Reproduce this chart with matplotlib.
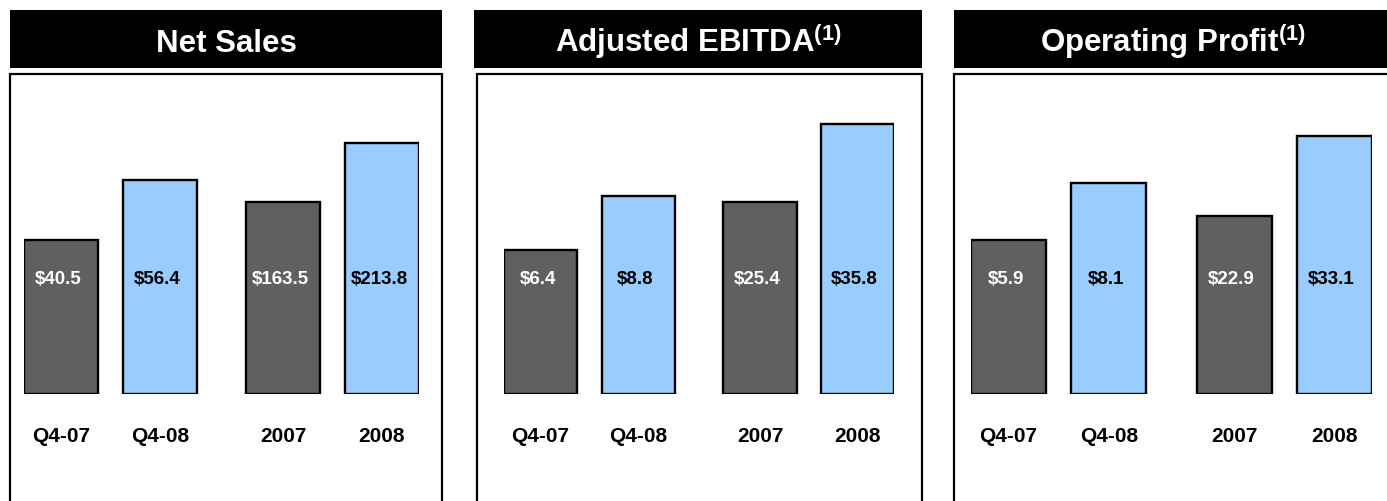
import matplotlib
matplotlib.use('Agg')
import matplotlib.pyplot as plt
from matplotlib.patches import Rectangle
from matplotlib.transforms import blended_transform_factory

plt.rcParams['font.family'] = ['Liberation Sans', 'DejaVu Sans']
plt.rcParams['font.weight'] = 'bold'
plt.rcParams['mathtext.fontset'] = 'custom'
plt.rcParams['mathtext.rm'] = 'Liberation Sans:bold'
plt.rcParams['mathtext.bf'] = 'Liberation Sans:bold'
plt.rcParams['mathtext.it'] = 'Liberation Sans:bold'

# 数据
titles = ['Net Sales', r'Adjusted EBITDA$^{(1)}$', r'Operating Profit$^{(1)}$']
periods = ['Q4-07', 'Q4-08', '2007', '2008']
net_sales = [40.5, 56.4, 163.5, 213.8]
adj_ebitda = [6.4, 8.8, 25.4, 35.8]
op_profit = [5.9, 8.1, 22.9, 33.1]
panel_values = [net_sales, adj_ebitda, op_profit]

# 版面（像素）
W, H = 1387, 502
dark = '#606060'
light = '#99CCFF'
header_x = [(10, 442), (474, 922), (954, 1392)]
box_x = [(10, 442), (477, 922), (954, 1392)]
bars_x = [(24, 419), (504, 894), (971, 1372)]
q_top = [77.8, 13.1, 11.3]      # 季度 y 轴上限
a_top = [250.8, 39.1, 37.9]     # 年度 y 轴上限
ax_top, ax_bottom = 100, 395

xpos = [0, 1, 2.25, 3.25]
width = 0.75

fig = plt.figure(figsize=(W / 100, H / 100), dpi=100)


def fx(x):
    return x / W


def fy(y):
    return 1 - y / H


for i in range(3):
    # 标题栏
    x0, x1 = header_x[i]
    fig.add_artist(Rectangle((fx(x0), fy(69)), fx(x1 - x0), (69 - 11) / H,
                             transform=fig.transFigure, facecolor='black',
                             edgecolor='none'))
    fig.text(fx((x0 + x1) / 2), fy(52), titles[i], color='white', fontsize=22.5,
             ha='center', va='baseline', fontweight='bold')

    # 外框
    b0, b1 = box_x[i]
    fig.add_artist(Rectangle((fx(b0), fy(520)), fx(b1 - b0), (520 - 75) / H,
                             transform=fig.transFigure, facecolor='none',
                             edgecolor='black', linewidth=1.6))

    # 柱状图：季度和年度分别用不同的纵轴
    l, r = bars_x[i]
    ax = fig.add_axes([fx(l), fy(ax_bottom), fx(r - l), (ax_bottom - ax_top) / H])
    ax2 = ax.twinx()
    vals = panel_values[i]
    ax.bar(xpos[:2], vals[:2], width, color=[dark, light], edgecolor='black', linewidth=1.7)
    ax2.bar(xpos[2:], vals[2:], width, color=[dark, light], edgecolor='black', linewidth=1.7)
    ax.set_ylim(0, q_top[i])
    ax2.set_ylim(0, a_top[i])
    ax.set_xlim(-width / 2, xpos[-1] + width / 2)
    for a in (ax, ax2):
        a.axis('off')

    trans = blended_transform_factory(ax.transData, ax.transAxes)
    for j, v in enumerate(vals):
        ax2.text(xpos[j] - 0.03, 0.393, '${:.1f}'.format(v).replace('$', r'\$'), transform=trans,
                 ha='center', va='center', fontsize=13.5, fontweight='bold',
                 color='white' if j % 2 == 0 else 'black')
        ax2.text(xpos[j], -0.139, periods[j], transform=trans, ha='center', va='center',
                 fontsize=15, fontweight='bold', color='black', clip_on=False)

fig.savefig('out.png', dpi=100)
